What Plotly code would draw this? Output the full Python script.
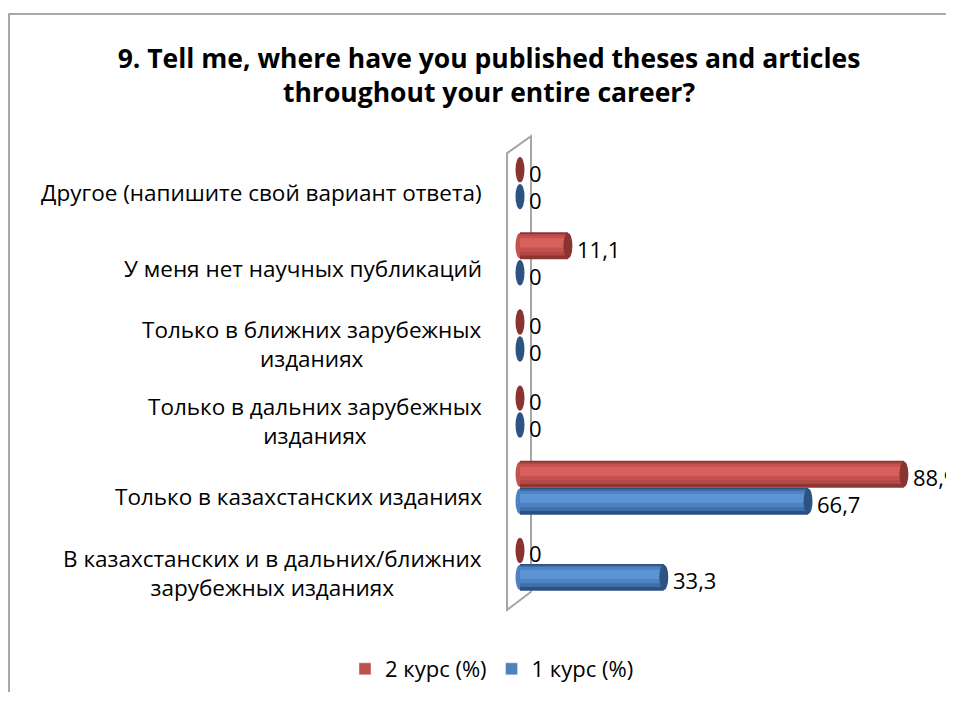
import plotly.graph_objects as go

# ---- data (bottom to top) ----
categories = [
    "В казахстанских и в дальних/ближних<br>зарубежных изданиях",
    "Только в казахстанских изданиях",
    "Только в дальних зарубежных<br>изданиях",
    "Только в ближних зарубежных<br>изданиях",
    "У меня нет научных публикаций",
    "Другое (напишите свой вариант ответа)",
]
course2 = [0, 88.9, 0, 0, 11.1, 0]   # 2 курс (%)
course1 = [33.3, 66.7, 0, 0, 0, 0]   # 1 курс (%)
series_names = ["2 курс (%)", "1 курс (%)"]
title_text = "9. Tell me, where have you published theses and articles<br>throughout your entire career?"

FONT = "'Open Sans', 'Noto Sans', sans-serif"
OFF = 8  # page body margin
W, H = 954 - OFF, 704 - 2 * OFF - 4
MB = 83 - OFF - 4
ML, MR, MT = 500 - OFF, 0, 126 - OFF
BAR_W = 0.354
CAP_HALF = 1.04  # half-width of cylinder cap in x units

red_layers = [(0.0, 1.0, "#8e3532"), (0.06, 0.86, "#b14845"), (0.12, 0.72, "#c6524f"), (0.22, 0.56, "#d8615e")]
blue_layers = [(0.0, 1.0, "#2c5080"), (0.06, 0.86, "#3f6eaa"), (0.12, 0.72, "#4d82c3"), (0.22, 0.56, "#5b93d5")]
cap_colors = ["#8a3431", "#2d5383"]
legend_colors = ["#c0504d", "#4f81bd"]

idx = list(range(len(categories)))
fig = go.Figure()

series = [(course2, red_layers, 0.0), (course1, blue_layers, -BAR_W)]
shapes = []

for s, (vals, layers, base_off) in enumerate(series):
    for li, (f0, f1, col) in enumerate(layers):
        top = base_off + BAR_W
        off = top - f1 * BAR_W
        wid = (f1 - f0) * BAR_W
        fig.add_trace(go.Bar(
            x=vals, y=idx, orientation="h", base=0,
            offset=off, width=wid,
            marker=dict(color=col, line=dict(width=0)),
            name=series_names[s], showlegend=False, hoverinfo="skip",
        ))
    for i, v in zip(idx, vals):
        shapes.append(dict(type="circle", xref="x", yref="y",
                           x0=v - CAP_HALF, x1=v + CAP_HALF,
                           y0=i + base_off + 0.01, y1=i + base_off + BAR_W - 0.01,
                           fillcolor=cap_colors[s], line=dict(width=0), layer="above"))
        if v > 0:
            shapes.append(dict(type="circle", xref="x", yref="y",
                               x0=-CAP_HALF, x1=CAP_HALF,
                               y0=i + base_off + 0.01, y1=i + base_off + BAR_W - 0.01,
                               fillcolor=layers[2][2], line=dict(width=0), layer="below"))

# legend-only traces
for s in range(2):
    fig.add_trace(go.Bar(x=[None], y=[None], orientation="h", name=series_names[s],
                         marker=dict(color=legend_colors[s]), showlegend=True))

annotations = []
for s, (vals, layers, base_off) in enumerate(series):
    for i, v in zip(idx, vals):
        annotations.append(dict(
            x=v, y=i + base_off + BAR_W / 2, xref="x", yref="y",
            text=f"{v:g}".replace(".", ","), showarrow=False,
            xanchor="left", yanchor="middle", xshift=7, yshift=-3,
            font=dict(family=FONT, size=22, color="#000000")))
for i, c in zip(idx, categories):
    annotations.append(dict(
        x=0, y=i, xref="paper", yref="y", text=c, showarrow=False,
        xanchor="right", yanchor="middle", align="center", xshift=-16, yshift=-9,
        font=dict(family=FONT, size=22.5, color="#000000")))

# back wall (3D style)
shapes.append(dict(type="path", xref="x", yref="y",
                   path="M -3.0,-0.604 L -3.0,5.394 L 2.55,5.617 L 2.55,-0.367 Z",
                   line=dict(color="#a6a6a6", width=2), fillcolor="rgba(0,0,0,0)", layer="below"))
# chart border (top and left edges; right/bottom lie outside the picture)
plot_w = W - ML - MR
plot_h = H - MT - MB
bx0 = (9 - OFF - ML) / plot_w
bx1 = (W + 60 - ML) / plot_w
by_top = (H - MB - (14 - OFF)) / plot_h
by_bot = (H - MB - (H + 60)) / plot_h
shapes.append(dict(type="path", xref="paper", yref="paper",
                   path=f"M {bx1},{by_top} L {bx0},{by_top} L {bx0},{by_bot}",
                   line=dict(color="#8c8c8c", width=1.5), layer="below"))

fig.update_layout(
    width=W, height=H,
    margin=dict(l=ML, r=MR, t=MT, b=MB),
    paper_bgcolor="white", plot_bgcolor="white",
    barmode="overlay",
    title=dict(text="<b>" + title_text + "</b>", x=(489 - OFF) / W, xref="container", xanchor="center",
               y=1 - (67.5 - OFF) / H, yref="container", yanchor="middle",
               font=dict(family=FONT, size=26.5, color="#000000")),
    xaxis=dict(range=[-4.63, 100.5], visible=False, fixedrange=True),
    yaxis=dict(range=[-0.75, 5.75], visible=False, fixedrange=True),
    showlegend=True,
    legend=dict(orientation="h", xref="container", yref="container",
                x=(492 - OFF) / W, xanchor="center", y=1 - (669 - OFF) / H, yanchor="middle",
                font=dict(family=FONT, size=22, color="#000000"),
                itemclick=False, itemdoubleclick=False),
    shapes=shapes,
    annotations=annotations,
)

fig.write_html("out.html")
